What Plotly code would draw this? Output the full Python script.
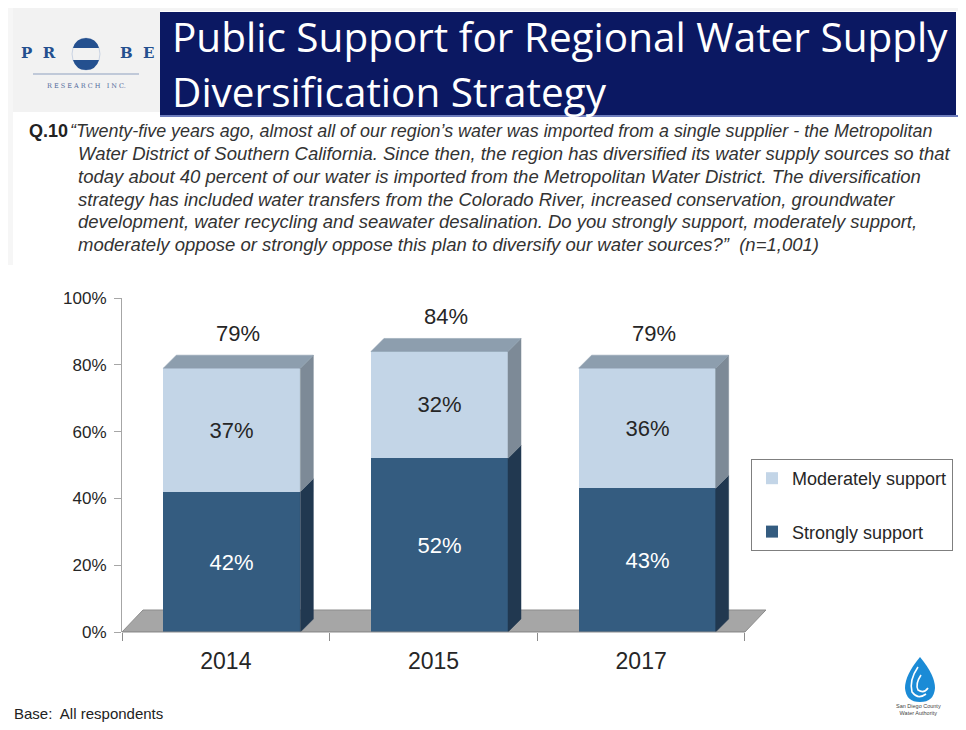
import plotly.graph_objects as go

# ---------------- data ----------------
years = ["2014", "2015", "2017"]
strongly = [42, 52, 43]
moderately = [37, 32, 36]
y_ticks = [0, 20, 40, 60, 80, 100]

title_lines = ["Public Support for Regional Water Supply", "Diversification Strategy"]
question_lines = [
    "“Twenty-five years ago, almost all of our region’s water was imported from a single supplier - the Metropolitan",
    "Water District of Southern California. Since then, the region has diversified its water supply sources so that",
    "today about 40 percent of our water is imported from the Metropolitan Water District. The diversification",
    "strategy has included water transfers from the Colorado River, increased conservation, groundwater",
    "development, water recycling and seawater desalination. Do you strongly support, moderately support,",
    "moderately oppose or strongly oppose this plan to diversify our water sources?”  (n=1,001)",
]

# ---------------- geometry (reference page pixels) ----------------
PAGE_W, PAGE_H = 966, 730
OFF = 8                      # default body margin of the html page
W, H = PAGE_W - 2 * OFF, PAGE_H - 2 * OFF
L, R, T, B = 122, 768, 298, 632
XMIN, XMAX = -0.5, 2.611
YMIN, YMAX = 0, 100
ppu_x = (R - L) / (XMAX - XMIN)
ppu_y = (B - T) / (YMAX - YMIN)
DX = 13 / ppu_x   # 3D depth in x units
DY = 13 / ppu_y   # 3D depth in y units
FDX = 21 / ppu_x  # floor depth
FDY = 22 / ppu_y
SHIFT = 6 / ppu_x  # perspective shift of bar front faces
BW = 0.66
HW = BW / 2


def px(x):
    return (x - L) / (R - L)


def py(y):
    return (B - y) / (B - T)


C_STRONG = "#345c80"
C_STRONG_SIDE = "#213850"
C_MOD = "#c3d5e7"
C_MOD_SIDE = "#7d8a97"
C_TOP = "#8d9eae"
FONT = "Liberation Sans"

xs = list(range(len(years)))
totals = [a + b for a, b in zip(strongly, moderately)]

fig = go.Figure()
# legend order: Moderately on top, Strongly below (stack built with explicit base)
fig.add_trace(go.Bar(
    x=xs, y=moderately, base=strongly, name="Moderately support", width=BW, offset=-HW + SHIFT,
    marker=dict(color=C_MOD, line=dict(width=0)),
    text=[f"{v}%" for v in moderately], textposition="inside",
    insidetextanchor="middle", textangle=0, constraintext="none",
    textfont=dict(family=FONT, size=22, color="#262626"),
    legendgroup="m", hoverinfo="skip",
))
fig.add_trace(go.Bar(
    x=xs, y=strongly, name="Strongly support", width=BW, offset=-HW + SHIFT,
    marker=dict(color=C_STRONG, line=dict(width=0)),
    text=[f"{v}%" for v in strongly], textposition="inside",
    insidetextanchor="middle", textangle=0, constraintext="none",
    textfont=dict(family=FONT, size=22, color="white"),
    legendgroup="s", hoverinfo="skip",
))


def poly(xv, yv, color):
    fig.add_trace(go.Scatter(
        x=xv + [xv[0]], y=yv + [yv[0]], mode="lines", fill="toself",
        fillcolor=color, line=dict(width=0.5, color=color),
        showlegend=False, hoverinfo="skip",
    ))


for c, s, t in zip(xs, strongly, totals):
    xl = c + SHIFT - HW
    xr = c + SHIFT + HW
    poly([xr, xr + DX, xr + DX, xr], [0, DY, s + DY, s], C_STRONG_SIDE)
    poly([xr, xr + DX, xr + DX, xr], [s, s + DY, t + DY, t], C_MOD_SIDE)
    poly([xl, xl + DX, xr + DX, xr], [t, t + DY, t + DY, t], C_TOP)

# floor
fig.add_shape(type="path", xref="x", yref="y", layer="below",
              path=f"M {XMIN},0 L {XMIN + 3},0 L {XMIN + 3 + FDX},{FDY} L {XMIN + FDX},{FDY} Z",
              fillcolor="#a6a6a6", line=dict(color="#8c8c8c", width=1))

# total labels
for c, t in zip(xs, totals):
    fig.add_annotation(x=c + SHIFT + DX / 2, y=t + 10.5, xref="x", yref="y", text=f"{t}%",
                       showarrow=False, font=dict(family=FONT, size=22, color="#262626"))

shapes = []
shapes.append(dict(type="rect", xref="paper", yref="paper", x0=px(0), x1=px(PAGE_W), y0=py(0), y1=py(11),
                   fillcolor="#f4f4f4", line=dict(width=0), layer="below"))
shapes.append(dict(type="rect", xref="paper", yref="paper", x0=px(0), x1=px(160), y0=py(0), y1=py(112),
                   fillcolor="#f2f2f2", line=dict(width=0), layer="below"))
shapes.append(dict(type="rect", xref="paper", yref="paper", x0=px(0), x1=px(13), y0=py(0), y1=py(265),
                   fillcolor="#f6f6f6", line=dict(width=0), layer="below"))
# title banner
shapes.append(dict(type="rect", xref="paper", yref="paper", x0=px(160), x1=px(956), y0=py(12), y1=py(115),
                   fillcolor="#0b1862", line=dict(width=0)))
shapes.append(dict(type="line", xref="paper", yref="paper", x0=px(160), x1=px(PAGE_W), y0=py(116), y1=py(116),
                   line=dict(color="#3c51a6", width=1.5)))
# probe logo circle
shapes.append(dict(type="circle", xref="paper", yref="paper", x0=px(72), x1=px(100), y0=py(38), y1=py(70),
                   fillcolor="rgba(0,0,0,0)", line=dict(color="#c9d3e3", width=1)))
shapes.append(dict(type="path", xref="paper", yref="paper",
                   path=(f"M {px(73)},{py(60)} L {px(99)},{py(60)} "
                         f"Q {px(96)},{py(70)} {px(86)},{py(70)} Q {px(76)},{py(70)} {px(73)},{py(60)} Z"),
                   fillcolor="#24508f", line=dict(width=0)))
shapes.append(dict(type="path", xref="paper", yref="paper",
                   path=(f"M {px(73)},{py(48)} L {px(99)},{py(48)} "
                         f"Q {px(96)},{py(38)} {px(86)},{py(38)} Q {px(76)},{py(38)} {px(73)},{py(48)} Z"),
                   fillcolor="#24508f", line=dict(width=0)))
shapes.append(dict(type="line", xref="paper", yref="paper", x0=px(33), x1=px(139), y0=py(74), y1=py(74),
                   line=dict(color="#8ea0bf", width=1)))
# water authority drop logo
shapes.append(dict(type="path", xref="paper", yref="paper",
                   path=(f"M {px(920)},{py(657)} Q {px(905)},{py(675)} {px(905)},{py(688)} "
                         f"Q {px(906)},{py(702)} {px(920)},{py(702)} Q {px(934)},{py(702)} {px(935)},{py(688)} "
                         f"Q {px(935)},{py(675)} {px(920)},{py(657)} Z"),
                   fillcolor="#1b8bd6", line=dict(width=0)))
shapes.append(dict(type="path", xref="paper", yref="paper",
                   path=(f"M {px(918)},{py(667)} Q {px(909)},{py(680)} {px(912)},{py(692)} "
                         f"Q {px(918)},{py(700)} {px(926)},{py(694)}"),
                   fillcolor="rgba(0,0,0,0)", line=dict(color="white", width=1.6)))
shapes.append(dict(type="path", xref="paper", yref="paper",
                   path=(f"M {px(921)},{py(675)} Q {px(915)},{py(684)} {px(918)},{py(690)} "
                         f"Q {px(924)},{py(694)} {px(928)},{py(688)}"),
                   fillcolor="rgba(0,0,0,0)", line=dict(color="white", width=1.6)))
# floor front edge line
shapes.append(dict(type="line", xref="paper", yref="paper", x0=px(122), x1=px(745), y0=py(632), y1=py(632),
                   line=dict(color="#8c8c8c", width=1)))
fig.update_layout(shapes=list(fig.layout.shapes) + shapes)

ann = []
for i, line in enumerate(title_lines):
    ann.append(dict(x=px(170), y=py(37 + i * 55), xref="paper", yref="paper", text=line,
                    showarrow=False, xanchor="left", yanchor="middle",
                    font=dict(family="Open Sans", size=40.5, color="white")))
ann.append(dict(x=px(39), y=py(53), xref="paper", yref="paper", text="P  R", showarrow=False,
                xanchor="center", yanchor="middle",
                font=dict(family="DejaVu Serif", size=15, color="#24508f", weight="bold")))
ann.append(dict(x=px(137), y=py(53), xref="paper", yref="paper", text="B  E", showarrow=False,
                xanchor="center", yanchor="middle",
                font=dict(family="DejaVu Serif", size=15, color="#24508f", weight="bold")))
ann.append(dict(x=px(86), y=py(86), xref="paper", yref="paper", text="R E S E A R C H   I N C.",
                showarrow=False, xanchor="center", yanchor="middle",
                font=dict(family="DejaVu Serif", size=6.5, color="#50689a")))
ann.append(dict(x=px(27), y=py(131), xref="paper", yref="paper", text="<b>Q.10</b>", showarrow=False,
                xanchor="left", yanchor="middle", font=dict(family=FONT, size=18, color="#222222")))
for i, line in enumerate(question_lines):
    ann.append(dict(x=px(68 if i == 0 else 76), y=py(131 + i * 22.7), xref="paper", yref="paper",
                    text=f"<i>{line}</i>", showarrow=False, xanchor="left", yanchor="middle",
                    font=dict(family=FONT, size=17.9 if i == 0 else 18.5, color="#333333")))
ann.append(dict(x=px(12), y=py(713), xref="paper", yref="paper", text="Base:  All respondents",
                showarrow=False, xanchor="left", yanchor="middle",
                font=dict(family=FONT, size=15, color="#222222")))
ann.append(dict(x=px(918), y=py(709), xref="paper", yref="paper",
                text="San Diego County<br>Water Authority", showarrow=False,
                xanchor="center", yanchor="middle",
                font=dict(family=FONT, size=5.5, color="#444444")))
fig.update_layout(annotations=list(fig.layout.annotations) + ann)

fig.update_layout(
    width=W, height=H,
    margin=dict(l=L - OFF, r=W - (R - OFF), t=T - OFF, b=H - (B - OFF), pad=0, autoexpand=False),
    paper_bgcolor="white", plot_bgcolor="rgba(0,0,0,0)",
    barmode="overlay", bargap=0,
    showlegend=True,
    legend=dict(x=px(751), y=py(459), xref="paper", yref="paper", xanchor="left", yanchor="top",
                bordercolor="#7f7f7f", borderwidth=1, bgcolor="white",
                traceorder="grouped", tracegroupgap=27, itemwidth=30,
                font=dict(family=FONT, size=18, color="#262626")),
    xaxis=dict(range=[XMIN, XMAX], tickmode="array", tickvals=xs, ticktext=years,
               ticks="", showgrid=False, zeroline=False, showline=False,
               tickfont=dict(family=FONT, size=23, color="#262626"), ticklabelstandoff=13,
               minor=dict(tickmode="array", tickvals=[XMIN + k for k in range(len(years) + 1)],
                          ticks="outside", ticklen=8, tickcolor="#8c8c8c", showgrid=False)),
    yaxis=dict(range=[YMIN, YMAX], tickmode="array", tickvals=y_ticks,
               ticktext=[f"{v}%" for v in y_ticks], ticks="outside", ticklen=7,
               tickcolor="#a6a6a6", showline=True, linecolor="#a6a6a6", linewidth=1,
               showgrid=False, zeroline=False,
               tickfont=dict(family=FONT, size=17, color="#262626"), ticklabelstandoff=4),
)

fig.write_html("out.html")
